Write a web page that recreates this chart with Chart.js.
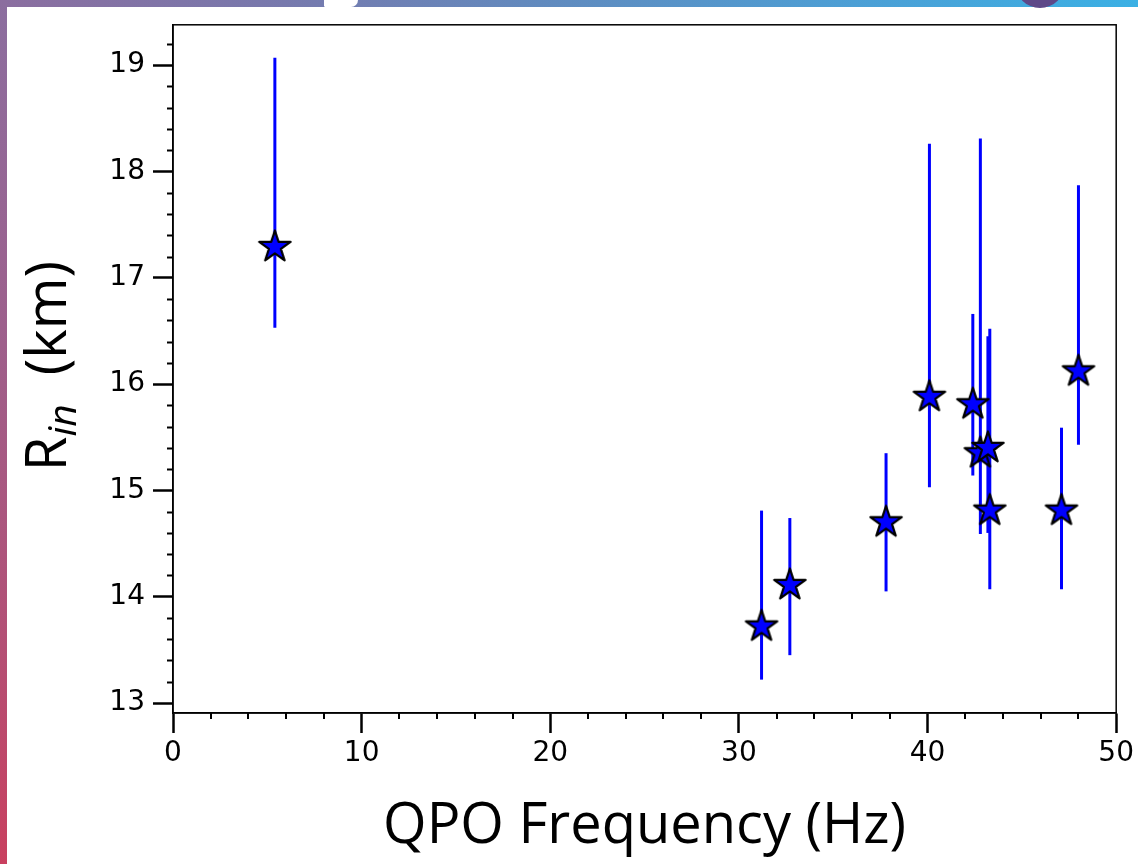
<!DOCTYPE html>
<html lang="es">
<head>
<meta charset="utf-8">
<title>Rin vs QPO</title>
<script src="https://cdn.jsdelivr.net/npm/chart.js@4.4.1/dist/chart.umd.min.js"></script>
<style>
    html, body { margin: 0; padding: 0; background: #fff; }
    body { width: 1138px; height: 864px; position: relative; overflow: hidden; }
    .franja-sup { position: absolute; left: 0; top: 0; width: 1138px; height: 7px;
        background: linear-gradient(90deg, #8b6e9f 0%, #7779ad 25%, #5f8cc0 50%, #4c9fd5 75%, #3bb0e4 100%); }
    .franja-izq { position: absolute; left: 0; top: 0; width: 7px; height: 864px;
        background: linear-gradient(180deg, #8b6e9f 0%, #9e5f8b 40%, #b44f74 75%, #c9405f 100%); }
    .mancha { position: absolute; left: 324px; top: 0; width: 34px; height: 7px; background: #fff; border-radius: 0 0 14px 3px; }
    .circulo { position: absolute; left: 1015px; top: -42px; width: 50px; height: 50px; border-radius: 50%; background: #5e4888; }
    canvas { position: absolute; left: 0; top: 0; }
</style>
</head>
<body>
<div class="franja-sup"></div>
<div class="franja-izq"></div>
<div class="mancha"></div>
<div class="circulo"></div>
<canvas id="grafico" width="1138" height="864"></canvas>
<script>
// Datos (frecuencia QPO en Hz, radio interno en km)
const frecuencias = [5.4, 31.2, 32.7, 37.8, 40.1, 42.4, 42.8, 43.2, 43.3, 47.1, 48.0];
const radios = [17.29, 13.72, 14.11, 14.70, 15.88, 15.81, 15.35, 15.40, 14.81, 14.81, 16.12];
const limiteSuperior = [19.07, 14.81, 14.74, 15.35, 18.26, 16.66, 18.31, 16.45, 16.52, 15.59, 17.87];
const limiteInferior = [16.53, 13.22, 13.45, 14.05, 15.03, 15.14, 14.59, 14.60, 14.07, 14.07, 15.43];

// Marcas de los ejes
const marcasX = [0, 10, 20, 30, 40, 50];
const marcasY = [13, 14, 15, 16, 17, 18, 19];

const tituloX = 'QPO Frequency (Hz)';

document.addEventListener('DOMContentLoaded', function() {
    // Estrella rellena al estilo de matplotlib
    function crearEstrella(radio) {
        const tam = 2 * Math.ceil(radio + 2);
        const lienzo = document.createElement('canvas');
        lienzo.width = tam;
        lienzo.height = tam;
        const c = lienzo.getContext('2d');
        const interior = radio * 0.381966;
        c.beginPath();
        for (let i = 0; i < 10; i++) {
            const r = i % 2 === 0 ? radio : interior;
            const ang = -Math.PI / 2 + i * Math.PI / 5;
            const px = tam / 2 + r * Math.cos(ang);
            const py = tam / 2 + r * Math.sin(ang);
            if (i === 0) c.moveTo(px, py); else c.lineTo(px, py);
        }
        c.closePath();
        c.fillStyle = '#0000ff';
        c.fill();
        c.lineWidth = 2.2;
        c.lineJoin = 'round';
        c.strokeStyle = '#000';
        c.stroke();
        return lienzo;
    }

    const estrella = crearEstrella(16.5);

    // Barras de error, marco, marcas menores y títulos
    const extras = {
        id: 'extras',
        beforeDatasetsDraw(chart) {
            const { ctx, scales: { x, y } } = chart;
            ctx.save();
            ctx.strokeStyle = '#0000ff';
            ctx.lineWidth = 3;
            frecuencias.forEach((f, i) => {
                const px = x.getPixelForValue(f);
                ctx.beginPath();
                ctx.moveTo(px, y.getPixelForValue(limiteInferior[i]));
                ctx.lineTo(px, y.getPixelForValue(limiteSuperior[i]));
                ctx.stroke();
            });
            ctx.restore();
        },
        afterDraw(chart) {
            const { ctx, chartArea: a, scales: { x, y } } = chart;
            ctx.save();
            // marco completo
            ctx.strokeStyle = '#000';
            ctx.lineWidth = 1.5;
            ctx.strokeRect(a.left, a.top, a.right - a.left, a.bottom - a.top);

            // marcas menores
            ctx.lineWidth = 2;
            ctx.beginPath();
            for (let k = Math.ceil(y.min * 5); k <= Math.floor(y.max * 5); k++) {
                if (k % 5 === 0) continue;
                const py = Math.round(y.getPixelForValue(k / 5)) + 0.5;
                ctx.moveTo(a.left - 6, py);
                ctx.lineTo(a.left, py);
            }
            for (let k = 0; k <= 25; k++) {
                if (k % 5 === 0) continue;
                const px = Math.round(x.getPixelForValue(k * 2));
                ctx.moveTo(px, a.bottom);
                ctx.lineTo(px, a.bottom + 6);
            }
            ctx.stroke();

            // título del eje X
            ctx.fillStyle = '#000';
            ctx.textBaseline = 'alphabetic';
            ctx.textAlign = 'center';
            ctx.font = '56px "Open Sans"';
            ctx.fillText(tituloX, (a.left + a.right) / 2, 843);

            // título del eje Y con subíndice en cursiva
            const fNormal = '56px "Open Sans"';
            const fSub = 'italic 39px "Open Sans"';
            ctx.font = fNormal;
            const wR = ctx.measureText('R').width;
            const wResto = ctx.measureText('  (km)').width;
            ctx.font = fSub;
            const wSub = ctx.measureText('in').width;
            ctx.translate(66, 366);
            ctx.rotate(-Math.PI / 2);
            ctx.textAlign = 'left';
            let inicio = -(wR + wSub + wResto) / 2;
            ctx.font = fNormal;
            ctx.fillText('R', inicio, 0);
            ctx.font = fSub;
            ctx.fillText('in', inicio + wR, 10);
            ctx.font = fNormal;
            ctx.fillText('  (km)', inicio + wR + wSub, 0);
            ctx.restore();
        }
    };

    const fuenteMarcas = { family: 'DejaVu Sans', size: 28 };

    new Chart(document.getElementById('grafico').getContext('2d'), {
        type: 'scatter',
        data: {
            datasets: [{
                data: frecuencias.map((f, i) => ({ x: f, y: radios[i] })),
                pointStyle: estrella,
                pointRadius: 17,
                pointHoverRadius: 17
            }]
        },
        options: {
            responsive: false,
            animation: false,
            layout: { padding: { top: 22, right: 21, left: 0, bottom: 0 } },
            plugins: {
                legend: { display: false },
                tooltip: { enabled: false }
            },
            scales: {
                x: {
                    type: 'linear',
                    min: 0,
                    max: 50,
                    afterFit: s => { s.height = 151; },
                    afterBuildTicks: s => { s.ticks = marcasX.map(v => ({ value: v })); },
                    grid: { drawOnChartArea: false, tickLength: 20, tickWidth: 2.5, tickColor: '#000' },
                    border: { color: '#000', width: 1.5 },
                    ticks: { color: '#000', font: fuenteMarcas, padding: 4, maxRotation: 0, autoSkip: false }
                },
                y: {
                    type: 'linear',
                    min: 12.906,
                    max: 19.38,
                    afterFit: s => { s.width = 173; },
                    afterBuildTicks: s => { s.ticks = marcasY.map(v => ({ value: v })); },
                    grid: { drawOnChartArea: false, tickLength: 20, tickWidth: 2.5, tickColor: '#000' },
                    border: { color: '#000', width: 1.5 },
                    ticks: { color: '#000', font: fuenteMarcas, padding: 8, autoSkip: false }
                }
            }
        },
        plugins: [extras]
    });
});
</script>
</body>
</html>
